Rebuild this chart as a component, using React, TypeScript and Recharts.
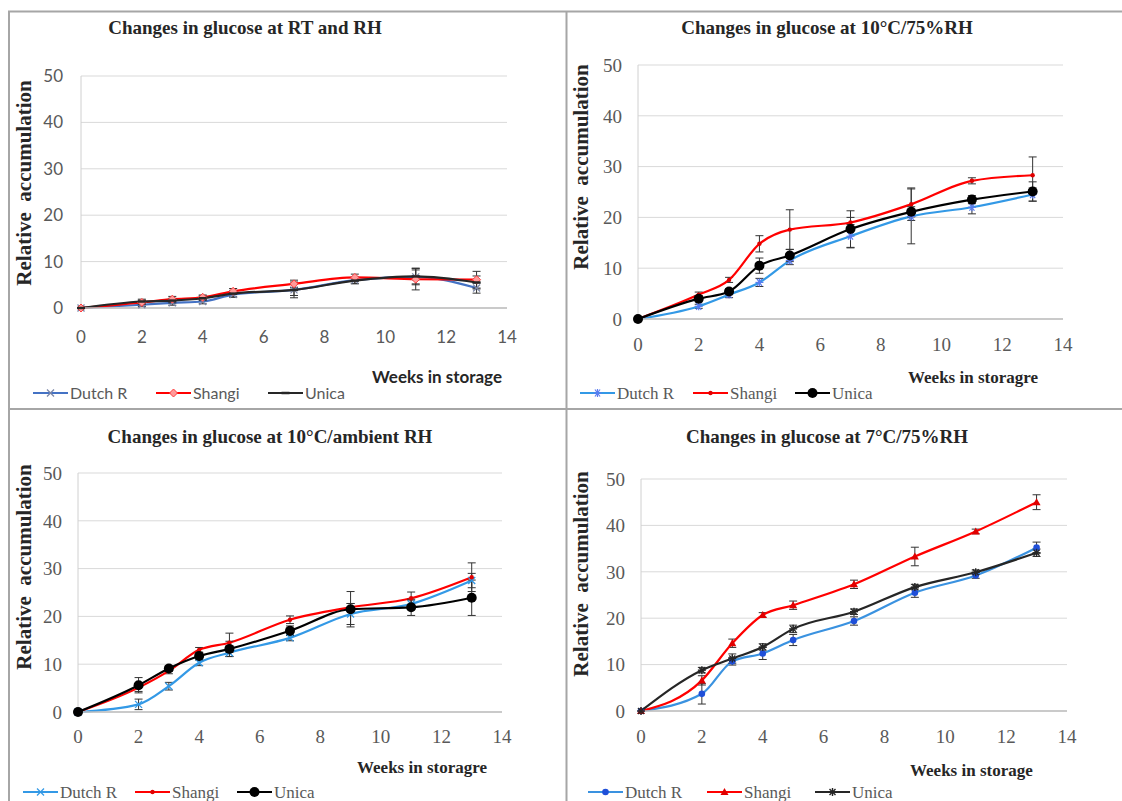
import React from 'react';
import { LineChart, Line, XAxis, YAxis, CartesianGrid, ErrorBar } from 'recharts';

// ---------- data ----------
const weeks = [0, 2, 3, 4, 5, 7, 9, 11, 13];
const xTicks = [0, 2, 4, 6, 8, 10, 12, 14];
const yTicks = [0, 10, 20, 30, 40, 50];
const seriesNames = ['Dutch R', 'Shangi', 'Unica'];

// Panel 1: RT and RH
const rtDutch = [0, 0.7, 1.1, 1.4, 2.9, 3.9, 6.0, 6.7, 4.3];
const rtDutchErr = [0, 0.4, 0.5, 0.5, 0.6, 1.7, 0.7, 1.5, 1.1];
const rtShangi = [0, 1.2, 1.9, 2.3, 3.6, 5.2, 6.6, 6.2, 6.1];
const rtShangiErr = [0, 0.5, 0.6, 0.5, 0.6, 0.8, 0.7, 2.3, 1.8];
const rtUnica = [0, 1.4, 1.6, 2.1, 3.1, 3.9, 5.9, 6.8, 5.5];
const rtUnicaErr = [0, 0.5, 0.5, 0.5, 0.7, 1.2, 0.7, 1.8, 1.4];

// Panel 2: 10°C / 75% RH
const c10hDutch = [0, 2.5, 4.8, 7.2, 11.5, 16.3, 20.2, 22.0, 24.5];
const c10hDutchErr = [0, 0.4, 0.6, 0.8, 0.8, 2.3, 5.4, 1.3, 1.3];
const c10hShangi = [0, 4.8, 7.7, 14.8, 17.6, 19.0, 22.6, 27.2, 28.3];
const c10hShangiErr = [0, 0.5, 0.5, 1.6, 3.9, 1.0, 3.2, 0.6, 3.6];
const c10hUnica = [0, 4.0, 5.4, 10.5, 12.5, 17.7, 21.1, 23.5, 25.1];
const c10hUnicaErr = [0, 0.6, 0.6, 1.5, 1.2, 3.6, 1.0, 0.8, 1.9];

// Panel 3: 10°C / ambient RH
const c10aDutch = [0, 1.6, 5.4, 10.3, 12.4, 15.5, 20.5, 22.6, 27.5];
const c10aDutchErr = [0, 1.1, 0.8, 0.6, 0.8, 0.6, 2.2, 0.8, 1.5];
const c10aShangi = [0, 5.1, 8.6, 13.0, 14.5, 19.3, 21.9, 23.8, 28.2];
const c10aShangiErr = [0, 0.8, 0.6, 0.5, 2.0, 0.8, 0.8, 1.3, 3.0];
const c10aUnica = [0, 5.6, 9.1, 11.7, 13.2, 17.0, 21.5, 21.9, 23.9];
const c10aUnicaErr = [0, 1.6, 0.6, 0.8, 1.6, 1.0, 3.7, 1.7, 3.7];

// Panel 4: 7°C / 75% RH
const c7Dutch = [0, 3.7, 10.7, 12.4, 15.3, 19.4, 25.5, 29.2, 35.2];
const c7DutchErr = [0, 2.2, 0.8, 1.3, 1.2, 0.9, 1.0, 0.6, 1.2];
const c7Shangi = [0, 6.6, 14.6, 20.7, 22.8, 27.3, 33.3, 38.7, 45.0];
const c7ShangiErr = [0, 1.0, 0.9, 0.5, 0.9, 0.9, 2.0, 0.5, 1.6];
const c7Unica = [0, 8.8, 11.3, 13.8, 17.7, 21.4, 26.7, 29.9, 34.1];
const c7UnicaErr = [0, 0.6, 1.0, 0.7, 0.8, 0.6, 0.6, 0.5, 0.8];

const buildTable = (d: number[], de: number[], s: number[], se: number[], u: number[], ue: number[]) =>
  weeks.map((w, i) => ({
    week: w,
    dutch: d[i], dutchErr: de[i],
    shangi: s[i], shangiErr: se[i],
    unica: u[i], unicaErr: ue[i],
  }));

// ---------- styling ----------
const SERIF = '"Liberation Serif", "DejaVu Serif", serif';
const SANS = 'Lato, "Open Sans", sans-serif';
const TICK = '#595959';
const DARK = '#262626';

type SeriesStyle = { key: string; color: string; marker: string; markerColor: string };

type Panel = {
  title: string;
  xLabel: string;
  data: any[];
  chart: { x: number; y: number; w: number; h: number };
  plot: { l: number; t: number; r: number; b: number };
  sans: boolean;
  xTickMargin: number;
  yTickMargin: number;
  titleX: number; titleY: number;
  yLabelX: number; yLabelY: number;
  xLabelX: number; xLabelY: number;
  legendX: number[]; legendY: number;
  series: SeriesStyle[];
};

const panels: Panel[] = [
  {
    title: 'Changes in glucose at RT and RH',
    xLabel: 'Weeks in storage',
    data: buildTable(rtDutch, rtDutchErr, rtShangi, rtShangiErr, rtUnica, rtUnicaErr),
    chart: { x: 9, y: 12, w: 557, h: 397 },
    plot: { l: 81, t: 76, r: 507, b: 308 },
    sans: true,
    xTickMargin: 17, yTickMargin: 12,
    titleX: 245, titleY: 34,
    yLabelX: 24, yLabelY: 183,
    xLabelX: 372, xLabelY: 383,
    legendX: [33, 156, 268], legendY: 393,
    series: [
      { key: 'dutch', color: '#4472C4', marker: 'x', markerColor: '#7a86a8' },
      { key: 'shangi', color: '#FF0000', marker: 'diamond', markerColor: '#ff4040' },
      { key: 'unica', color: '#262626', marker: 'dash', markerColor: '#262626' },
    ],
  },
  {
    title: 'Changes in glucose at 10°C/75%RH',
    xLabel: 'Weeks in storagre',
    data: buildTable(c10hDutch, c10hDutchErr, c10hShangi, c10hShangiErr, c10hUnica, c10hUnicaErr),
    chart: { x: 567, y: 12, w: 555, h: 397 },
    plot: { l: 638, t: 65, r: 1063, b: 319 },
    sans: false,
    xTickMargin: 13, yTickMargin: 10,
    titleX: 827, titleY: 34,
    yLabelX: 581, yLabelY: 167,
    xLabelX: 908, xLabelY: 383,
    legendX: [580, 693, 795], legendY: 393,
    series: [
      { key: 'dutch', color: '#3399E6', marker: 'asterisk', markerColor: '#5a7cf0' },
      { key: 'shangi', color: '#FF0000', marker: 'dot', markerColor: '#e00000' },
      { key: 'unica', color: '#000000', marker: 'circle', markerColor: '#000000' },
    ],
  },
  {
    title: 'Changes in glucose at 10°C/ambient RH',
    xLabel: 'Weeks in storagre',
    data: buildTable(c10aDutch, c10aDutchErr, c10aShangi, c10aShangiErr, c10aUnica, c10aUnicaErr),
    chart: { x: 9, y: 410, w: 557, h: 391 },
    plot: { l: 78, t: 473, r: 502, b: 712 },
    sans: false,
    xTickMargin: 12, yTickMargin: 10,
    titleX: 270, titleY: 443,
    yLabelX: 24, yLabelY: 567,
    xLabelX: 357, xLabelY: 773,
    legendX: [23, 135, 237], legendY: 792,
    series: [
      { key: 'dutch', color: '#3399E6', marker: 'x', markerColor: '#3399E6' },
      { key: 'shangi', color: '#FF0000', marker: 'dot', markerColor: '#e00000' },
      { key: 'unica', color: '#000000', marker: 'circle', markerColor: '#000000' },
    ],
  },
  {
    title: 'Changes in glucose at 7°C/75%RH',
    xLabel: 'Weeks in storage',
    data: buildTable(c7Dutch, c7DutchErr, c7Shangi, c7ShangiErr, c7Unica, c7UnicaErr),
    chart: { x: 567, y: 410, w: 555, h: 391 },
    plot: { l: 641, t: 479, r: 1067, b: 711 },
    sans: false,
    xTickMargin: 13, yTickMargin: 10,
    titleX: 827, titleY: 443,
    yLabelX: 581, yLabelY: 574,
    xLabelX: 910, xLabelY: 776,
    legendX: [588, 707, 815], legendY: 792,
    series: [
      { key: 'dutch', color: '#3A92E0', marker: 'bluedot', markerColor: '#1f4fd8' },
      { key: 'shangi', color: '#FF0000', marker: 'triangle', markerColor: '#e00000' },
      { key: 'unica', color: '#262626', marker: 'star', markerColor: '#262626' },
    ],
  },
];

const Y_AXIS_W = 50;
const X_AXIS_H = 40;

function Marker({ kind, cx, cy, color }: { kind: string; cx: number; cy: number; color: string }) {
  if (cx == null || cy == null || isNaN(cx) || isNaN(cy)) return null;
  switch (kind) {
    case 'x':
      return (
        <g stroke={color} strokeWidth={1.3}>
          <line x1={cx - 3.5} y1={cy - 3.5} x2={cx + 3.5} y2={cy + 3.5} />
          <line x1={cx - 3.5} y1={cy + 3.5} x2={cx + 3.5} y2={cy - 3.5} />
        </g>
      );
    case 'diamond':
      return (
        <path d={`M${cx},${cy - 4}L${cx + 4},${cy}L${cx},${cy + 4}L${cx - 4},${cy}Z`} fill="#ff9a9a" stroke={color} strokeWidth={1} />
      );
    case 'dash':
      return <line x1={cx - 4} y1={cy} x2={cx + 4} y2={cy} stroke={color} strokeWidth={2.5} />;
    case 'asterisk':
      return (
        <g stroke={color} strokeWidth={1.2}>
          <line x1={cx - 4} y1={cy} x2={cx + 4} y2={cy} />
          <line x1={cx - 2.5} y1={cy - 3.5} x2={cx + 2.5} y2={cy + 3.5} />
          <line x1={cx - 2.5} y1={cy + 3.5} x2={cx + 2.5} y2={cy - 3.5} />
          <line x1={cx} y1={cy - 4} x2={cx} y2={cy + 4} />
        </g>
      );
    case 'dot':
      return <circle cx={cx} cy={cy} r={2.2} fill={color} />;
    case 'circle':
      return <circle cx={cx} cy={cy} r={5} fill={color} />;
    case 'bluedot':
      return <circle cx={cx} cy={cy} r={3.3} fill={color} />;
    case 'triangle':
      return <path d={`M${cx},${cy - 4}L${cx + 4},${cy + 3}L${cx - 4},${cy + 3}Z`} fill={color} />;
    case 'star':
      return (
        <g stroke={color} strokeWidth={1.4}>
          <line x1={cx - 4} y1={cy} x2={cx + 4} y2={cy} />
          <line x1={cx} y1={cy - 4} x2={cx} y2={cy + 4} />
          <line x1={cx - 3} y1={cy - 3} x2={cx + 3} y2={cy + 3} />
          <line x1={cx - 3} y1={cy + 3} x2={cx + 3} y2={cy - 3} />
        </g>
      );
    default:
      return null;
  }
}

const makeTick = (family: string, size: number, axis: 'x' | 'y') => (props: any) => {
  const { x, y, payload } = props;
  return (
    <text
      x={x}
      y={y}
      dy={axis === 'x' ? '0.71em' : '0.355em'}
      textAnchor={axis === 'x' ? 'middle' : 'end'}
      fontFamily={family}
      fontSize={size}
      fill={TICK}
      style={{ fontFamily: family, fontSize: size, fill: TICK }}
    >
      {String(payload.value)}
    </text>
  );
};

function PanelChart({ p }: { p: Panel }) {
  const margin = {
    top: p.plot.t - p.chart.y,
    left: p.plot.l - p.chart.x - Y_AXIS_W,
    right: p.chart.x + p.chart.w - p.plot.r,
    bottom: p.chart.y + p.chart.h - p.plot.b - X_AXIS_H,
  };
  const family = p.sans ? SANS : SERIF;
  const size = p.sans ? 17 : 19;
  return (
    <div style={{ position: 'absolute', left: p.chart.x, top: p.chart.y, fontFamily: family }}>
      <LineChart width={p.chart.w} height={p.chart.h} data={p.data} margin={margin} style={{ fontFamily: family }}>
        <CartesianGrid vertical={false} stroke="#d9d9d9" strokeWidth={1} />
        <XAxis
          dataKey="week"
          type="number"
          domain={[0, 14]}
          ticks={xTicks}
          height={X_AXIS_H}
          tickLine={false}
          axisLine={{ stroke: '#bfbfbf', strokeWidth: 1.5 }}
          tickMargin={p.xTickMargin}
          tick={makeTick(family, size, 'x')}
          interval={0}
        />
        <YAxis
          type="number"
          domain={[0, 50]}
          ticks={yTicks}
          width={Y_AXIS_W}
          tickLine={false}
          axisLine={{ stroke: '#d0d0d0', strokeWidth: 1 }}
          tickMargin={p.yTickMargin}
          tick={makeTick(family, size, 'y')}
          interval={0}
        />
        {p.series.map((s, si) => (
          <Line
            key={s.key}
            dataKey={s.key}
            name={seriesNames[si]}
            type="monotone"
            stroke={s.color}
            strokeWidth={2.2}
            isAnimationActive={false}
            dot={(dp: any) => (
              <Marker key={`${s.key}-${dp.index}`} kind={s.marker} cx={dp.cx} cy={dp.cy} color={s.markerColor} />
            )}
            activeDot={false}
          >
            <ErrorBar dataKey={`${s.key}Err`} direction="y" width={4} stroke="#333333" strokeWidth={1} />
          </Line>
        ))}
      </LineChart>
    </div>
  );
}

function Overlay() {
  return (
    <svg width={1122} height={801} style={{ position: 'absolute', left: 0, top: 0 }}>
      <g stroke="#a6a6a6" strokeWidth={2}>
        <line x1={8} y1={11.5} x2={1122} y2={11.5} />
        <line x1={9} y1={11} x2={9} y2={801} />
        <line x1={566.5} y1={11} x2={566.5} y2={801} />
        <line x1={8} y1={409} x2={1122} y2={409} />
      </g>
      {panels.map((p, pi) => {
        const labelFont = p.sans ? SANS : SERIF;
        const legendFont = p.sans ? SANS : SERIF;
        const legendSize = p.sans ? 16 : 17;
        return (
          <g key={pi}>
            <text x={p.titleX} y={p.titleY} textAnchor="middle" fontFamily={SERIF} fontWeight="bold" fontSize={19} fill={DARK}>
              {p.title}
            </text>
            <text
              x={p.yLabelX}
              y={p.yLabelY}
              transform={`rotate(-90 ${p.yLabelX} ${p.yLabelY})`}
              textAnchor="middle"
              dominantBaseline="central"
              fontFamily={SERIF}
              fontWeight="bold"
              fontSize={21}
              fill={DARK}
              style={{ whiteSpace: 'pre' }}
            >
              {'Relative  accumulation'}
            </text>
            <text x={p.xLabelX} y={p.xLabelY} fontFamily={labelFont} fontWeight="bold" fontSize={17} fill={DARK}>
              {p.xLabel}
            </text>
            {p.series.map((s, si) => {
              const x0 = p.legendX[si];
              const y0 = p.legendY;
              return (
                <g key={s.key}>
                  <line x1={x0} y1={y0} x2={x0 + 35} y2={y0} stroke={s.color} strokeWidth={2.2} />
                  <Marker kind={s.marker} cx={x0 + 17.5} cy={y0} color={s.markerColor} />
                  <text x={x0 + 37} y={y0 + 5.5} fontFamily={legendFont} fontSize={legendSize} fill={TICK}>
                    {seriesNames[si]}
                  </text>
                </g>
              );
            })}
          </g>
        );
      })}
    </svg>
  );
}

export default function App() {
  return (
    <div style={{ position: 'absolute', left: 0, top: 0, width: 1122, height: 801, background: '#ffffff', overflow: 'hidden' }}>
      <Overlay />
      {panels.map((p, i) => (
        <PanelChart key={i} p={p} />
      ))}
    </div>
  );
}
